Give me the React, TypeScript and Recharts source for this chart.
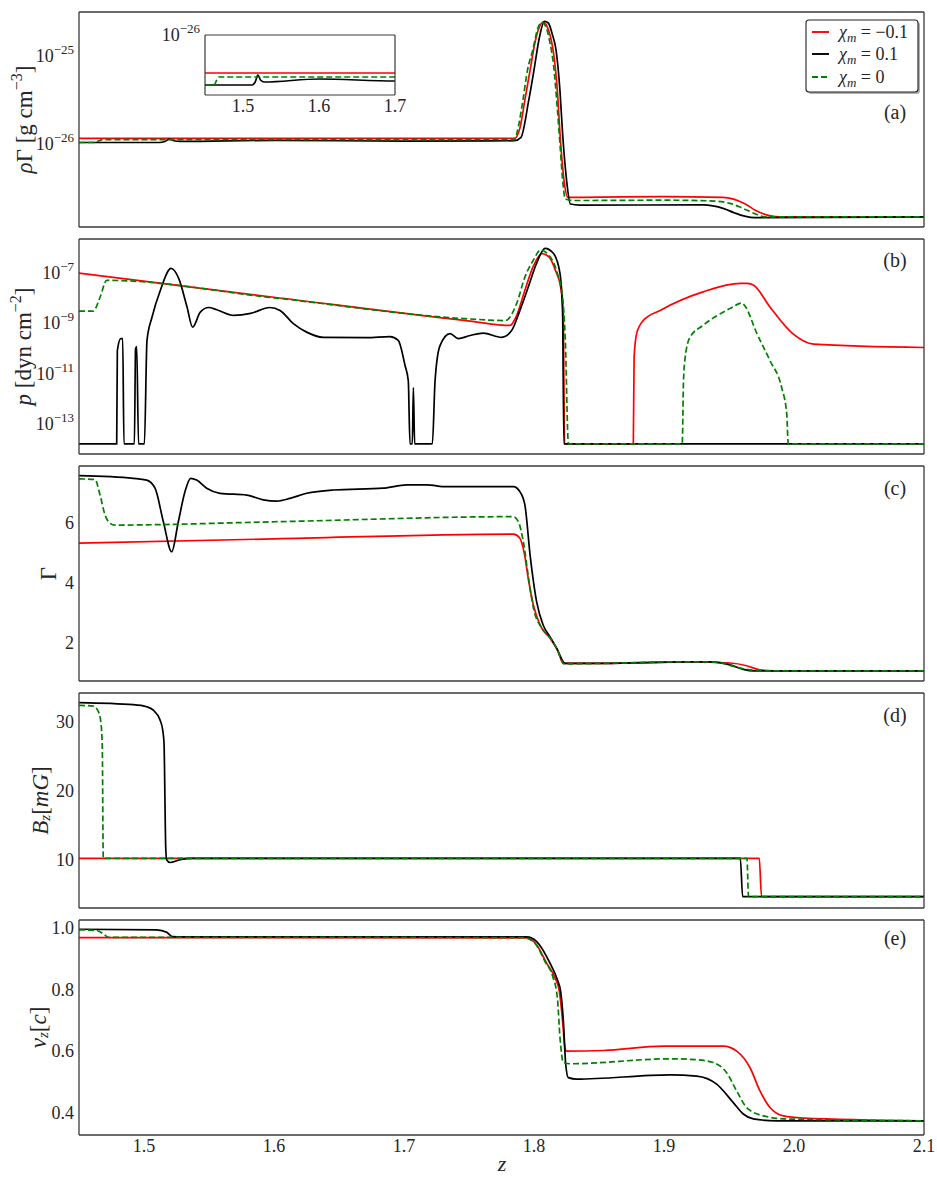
import React from 'react';
import { LineChart, Line, XAxis, YAxis, Legend } from 'recharts';

type Pt = [number, number];

// ---------- x axis ----------
const Z_DOMAIN: [number, number] = [1.45, 2.1];
const Z_MAJOR = [1.5, 1.6, 1.7, 1.8, 1.9, 2.0, 2.1];
const INSET_DOMAIN: [number, number] = [1.45, 1.7];
const INSET_MAJOR = [1.5, 1.6, 1.7];

// ---------- series names ----------
const SERIES_NAMES = ['\u03c7m = \u22120.1', '\u03c7m = 0.1', '\u03c7m = 0'];

// ---------- panel (a): rho*Gamma [g cm^-3] ----------
const rhoRed: Pt[] = [
  [1.45, 1.17e-26], [1.785, 1.17e-26], [1.789, 1.5e-26], [1.793, 3.2e-26], [1.797, 7e-26],
  [1.801, 1.5e-25], [1.805, 2.3e-25], [1.807, 2.45e-25], [1.81, 2.2e-25], [1.813, 1.6e-25],
  [1.815, 1.1e-25], [1.818, 4e-26], [1.82, 1.33e-26], [1.823, 4e-27], [1.826, 2.5e-27],
  [1.835, 2.5e-27], [1.9, 2.55e-27], [1.945, 2.5e-27], [1.9626, 2.1e-27], [1.9703, 1.78e-27],
  [1.981, 1.55e-27], [1.99, 1.5e-27], [2.1, 1.5e-27],
];
const rhoBlack: Pt[] = [
  [1.45, 1.05e-26], [1.512, 1.05e-26], [1.516, 1.08e-26], [1.5197, 1.15e-26], [1.523, 1.1e-26],
  [1.528, 1.08e-26], [1.6, 1.11e-26], [1.7, 1.09e-26], [1.785, 1.1e-26], [1.79, 1.2e-26],
  [1.796, 3.2e-26], [1.8, 7e-26], [1.804, 1.6e-25], [1.808, 2.5e-25], [1.811, 2.4e-25],
  [1.814, 1.8e-25], [1.817, 1.17e-25], [1.82, 4e-26], [1.822, 1.33e-26], [1.825, 4e-27],
  [1.828, 2.1e-27], [1.835, 2.04e-27], [1.93, 2.05e-27], [1.946, 1.86e-27], [1.954, 1.67e-27],
  [1.962, 1.53e-27], [1.97, 1.47e-27], [2.1, 1.5e-27],
];
const rhoGreen: Pt[] = [
  [1.45, 1.05e-26], [1.462, 1.05e-26], [1.4654, 1.1e-26], [1.468, 1.13e-26], [1.785, 1.13e-26],
  [1.788, 1.6e-26], [1.7915, 3.2e-26], [1.795, 7e-26], [1.799, 1.17e-25], [1.803, 2.1e-25],
  [1.806, 2.45e-25], [1.809, 2.2e-25], [1.812, 1.5e-25], [1.815, 8e-26], [1.818, 2.5e-26],
  [1.82, 1.0e-26], [1.822, 4e-27], [1.824, 2.4e-27], [1.83, 2.3e-27], [1.9, 2.32e-27],
  [1.935, 2.28e-27], [1.95, 2.15e-27], [1.958, 1.95e-27], [1.97, 1.63e-27], [1.978, 1.5e-27],
  [2.1, 1.5e-27],
];

// ---------- panel (b): p [dyn cm^-2] ----------
const pRed: Pt[] = [
  [1.45, 1e-7], [1.6, 1.1e-8], [1.7508, 1.24e-9], [1.7815, 8.3e-10], [1.7867, 2.1e-9],
  [1.793, 2.1e-8], [1.7995, 1.9e-7], [1.806, 6.0e-7], [1.8115, 4.5e-7], [1.8165, 1.3e-7],
  [1.8205, 2.8e-8], [1.8225, 2.5e-9], [1.8235, 1.6e-14], [1.8764, 1.6e-14], [1.877, 4.5e-11],
  [1.879, 4e-10], [1.884, 1.3e-9], [1.897, 3.3e-9], [1.93, 1.8e-8], [1.9587, 3.9e-8],
  [1.964, 3.9e-8], [1.969, 3.3e-8], [1.9815, 4.5e-9], [1.999, 3.9e-10], [2.015, 1.5e-10],
  [2.1, 1.1e-10],
];
const pBlack: Pt[] = [
  [1.45, 1.6e-14], [1.479, 1.6e-14], [1.4795, 8.3e-11], [1.4821, 2.5e-10], [1.4836, 2.5e-10],
  [1.4846, 1.6e-14], [1.4926, 1.6e-14], [1.4935, 9.8e-11], [1.4944, 1.2e-10], [1.4958, 1.6e-14],
  [1.5003, 1.6e-14], [1.5023, 2.1e-10], [1.5062, 1.8e-9], [1.5126, 2.1e-8], [1.5208, 1.55e-7],
  [1.5267, 6.2e-8], [1.5331, 4.5e-9], [1.5374, 7.1e-10], [1.5433, 2.8e-9], [1.5497, 4.3e-9],
  [1.556, 3.5e-9], [1.569, 2.1e-9], [1.582, 2.5e-9], [1.5969, 4.3e-9], [1.6046, 3.3e-9],
  [1.6149, 9.8e-10], [1.6251, 4.5e-10], [1.6379, 2.8e-10], [1.6713, 2.7e-10], [1.6892, 3e-10],
  [1.6956, 2.1e-10], [1.7008, 2.1e-11], [1.7033, 5.2e-12], [1.7046, 1.6e-14], [1.7064, 1.6e-14],
  [1.7072, 2.8e-12], [1.7082, 1.6e-14], [1.7218, 1.6e-14], [1.7239, 5.2e-12], [1.7277, 1.3e-10],
  [1.7354, 3.9e-10], [1.7418, 2.5e-10], [1.7508, 3.3e-10], [1.761, 4.1e-10], [1.7751, 2.8e-10],
  [1.7828, 5.2e-10], [1.7892, 3.3e-9], [1.7956, 2.8e-8], [1.802, 2.5e-7], [1.8085, 9.8e-7],
  [1.8149, 6.2e-7], [1.82, 9.8e-8], [1.822, 2.5e-9], [1.823, 1.6e-14], [2.1, 1.6e-14],
];
const pGreen: Pt[] = [
  [1.45, 3.1e-9], [1.461, 3.1e-9], [1.4662, 1.1e-8], [1.4713, 5.2e-8], [1.6, 1.04e-8],
  [1.7508, 1.5e-9], [1.778, 1.3e-9], [1.7867, 6.3e-9], [1.793, 7e-8], [1.7995, 3.3e-7],
  [1.805, 8.3e-7], [1.8115, 5.2e-7], [1.818, 9.8e-8], [1.822, 1.1e-8], [1.824, 2.8e-10],
  [1.8265, 1.6e-14], [1.914, 1.6e-14], [1.915, 5.2e-12], [1.9163, 4.5e-11], [1.92, 2.8e-10],
  [1.93, 8.3e-10], [1.9507, 3.9e-9], [1.96, 6.5e-9], [1.962, 5.2e-9], [1.9715, 3.9e-10],
  [1.9815, 3.3e-11], [1.9905, 2.8e-12], [1.9944, 2.5e-13], [1.9956, 1.6e-14], [2.1, 1.6e-14],
];

// ---------- panel (c): Gamma ----------
const gRed: Pt[] = [
  [1.45, 5.33], [1.6, 5.47], [1.7841, 5.63], [1.789, 5.5], [1.7925, 5.0], [1.796, 4.04],
  [1.7995, 3.27], [1.8046, 2.6], [1.8123, 2.16], [1.818, 1.77], [1.8226, 1.32], [1.8533, 1.32],
  [1.9174, 1.37], [1.9508, 1.33], [1.9636, 1.24], [1.9738, 1.1], [1.985, 1.07], [2.1, 1.07],
];
const gBlack: Pt[] = [
  [1.45, 7.58], [1.4918, 7.49], [1.5021, 7.43], [1.5085, 7.16], [1.5149, 6.04], [1.5213, 5.04],
  [1.5264, 6.04], [1.5315, 7.04], [1.5359, 7.49], [1.5405, 7.43], [1.5482, 7.16], [1.5585, 6.99],
  [1.579, 6.93], [1.5918, 6.77], [1.6021, 6.73], [1.6123, 6.82], [1.6251, 6.99], [1.6456, 7.1],
  [1.6841, 7.16], [1.7021, 7.27], [1.7174, 7.27], [1.7328, 7.21], [1.7841, 7.21], [1.7892, 7.04],
  [1.793, 6.6], [1.797, 4.93], [1.802, 3.38], [1.807, 2.6], [1.8123, 2.21], [1.8175, 1.82],
  [1.824, 1.32], [1.8533, 1.32], [1.9174, 1.37], [1.9354, 1.37], [1.9508, 1.27], [1.961, 1.12],
  [1.9687, 1.07], [2.1, 1.07],
];
const gGreen: Pt[] = [
  [1.45, 7.47], [1.4623, 7.45], [1.4662, 6.93], [1.47, 6.27], [1.4738, 5.99], [1.4777, 5.93],
  [1.6, 6.04], [1.7841, 6.21], [1.788, 6.04], [1.7918, 5.38], [1.796, 4.1], [1.7995, 3.18],
  [1.806, 2.49], [1.8136, 2.1], [1.818, 1.77], [1.8231, 1.3], [1.8533, 1.32], [1.9174, 1.37],
  [1.94, 1.36], [1.9559, 1.19], [1.9662, 1.1], [1.98, 1.07], [2.1, 1.07],
];

// ---------- panel (d): Bz [mG] ----------
const bRed: Pt[] = [[1.45, 10.2], [1.9733, 10.2], [1.975, 4.65], [2.1, 4.65]];
const bBlack: Pt[] = [
  [1.45, 32.8], [1.4918, 32.5], [1.5021, 32.2], [1.5072, 31.7], [1.5123, 30.3], [1.5144, 28.8],
  [1.5154, 26.9], [1.5167, 11.9], [1.5174, 10.0], [1.52, 9.6], [1.5277, 10.0], [1.5379, 10.2],
  [1.9587, 10.2], [1.9605, 4.65], [2.1, 4.65],
];
const bGreen: Pt[] = [
  [1.45, 32.4], [1.461, 32.3], [1.4649, 31.5], [1.4669, 29.8], [1.4679, 26.4], [1.4687, 10.2],
  [1.9638, 10.2], [1.965, 4.65], [2.1, 4.65],
];

// ---------- panel (e): vz [c] ----------
const vRed: Pt[] = [
  [1.45, 0.969], [1.7944, 0.968], [1.8021, 0.945], [1.8097, 0.886], [1.8162, 0.838], [1.8195, 0.795],
  [1.822, 0.698], [1.8238, 0.612], [1.8251, 0.601], [1.8533, 0.603], [1.8995, 0.617], [1.9456, 0.617],
  [1.9559, 0.601], [1.9662, 0.547], [1.9738, 0.472], [1.9815, 0.418], [1.9918, 0.391], [2.0072, 0.384],
  [2.1, 0.375],
];
const vBlack: Pt[] = [
  [1.45, 0.996], [1.5098, 0.994], [1.5175, 0.986], [1.5218, 0.972], [1.53, 0.971], [1.7944, 0.971],
  [1.8021, 0.956], [1.8123, 0.886], [1.818, 0.832], [1.8205, 0.795], [1.8226, 0.698], [1.8244, 0.558],
  [1.8264, 0.515], [1.8328, 0.51], [1.9046, 0.524], [1.9251, 0.52], [1.9405, 0.494], [1.9533, 0.434],
  [1.961, 0.397], [1.9687, 0.381], [1.9867, 0.375], [2.1, 0.375],
];
const vGreen: Pt[] = [
  [1.45, 0.994], [1.4636, 0.992], [1.4687, 0.981], [1.4726, 0.97], [1.7918, 0.969], [1.8008, 0.95],
  [1.8085, 0.891], [1.8144, 0.843], [1.818, 0.773], [1.82, 0.644], [1.8226, 0.564], [1.8277, 0.56],
  [1.9046, 0.576], [1.9251, 0.573], [1.9379, 0.564], [1.9482, 0.531], [1.9559, 0.472], [1.9636, 0.418],
  [1.9764, 0.391], [1.9944, 0.381], [2.1, 0.375],
];

// ---------- y tick values ----------
const A_MAJOR = [1e-26, 1e-25];
const B_MAJOR = [1e-13, 1e-11, 1e-9, 1e-7];
const C_MAJOR = [2, 4, 6];
const D_MAJOR = [10, 20, 30];
const E_MAJOR = [0.4, 0.6, 0.8, 1.0];

// ---------- styling ----------
const FONT = 'Liberation Serif, DejaVu Serif, serif';
const TXT = '#262626';
const FRAME = '#3a3a3a';
const RED = '#ff0000';
const BLACK = '#000000';
const GREEN = '#008000';
const LW = 1.7;
const TICK_FS = 18;
const SUP_FS = 13;
const FS = { fontFamily: FONT };

const rows = (pts: Pt[]) => pts.map(([z, v]) => ({ z, v }));

function steps(a: number, b: number, step: number): number[] {
  const out: number[] = [];
  const n = Math.round((b - a) / step);
  for (let i = 0; i <= n; i++) out.push(+(a + i * step).toFixed(6));
  return out;
}
function logMinor(e0: number, e1: number, lo: number, hi: number): number[] {
  const out: number[] = [];
  for (let e = e0; e <= e1; e++) {
    for (let m = 2; m <= 9; m++) {
      const v = m * Math.pow(10, e);
      if (v >= lo && v <= hi) out.push(v);
    }
  }
  return out;
}

const Z_MINOR = steps(1.45, 2.1, 0.01);
const INSET_MINOR = steps(1.45, 1.7, 0.1 / 6);

const supMinus = (n: number) => '\u2212' + Math.abs(n);

const makeYTick = (kind: 'log' | 'int' | 'dec') => (props: any) => {
  const { x, y, payload } = props;
  const v = payload.value as number;
  if (kind === 'log') {
    const e = Math.round(Math.log10(v));
    return (
      <text x={x} y={y} textAnchor="end" fontFamily={FONT} style={FS} fontSize={TICK_FS} fill={TXT}>
        <tspan dy={6}>10</tspan>
        <tspan dy={-8} fontSize={SUP_FS}>{supMinus(e)}</tspan>
      </text>
    );
  }
  const s = kind === 'dec' ? v.toFixed(1) : String(Math.round(v));
  return (
    <text x={x} y={y} dy={6} textAnchor="end" fontFamily={FONT} style={FS} fontSize={TICK_FS} fill={TXT}>{s}</text>
  );
};

const XTick = (props: any) => {
  const { x, y, payload } = props;
  return (
    <text x={x} y={y} dy={13} textAnchor="middle" fontFamily={FONT} style={FS} fontSize={TICK_FS} fill={TXT}>
      {(payload.value as number).toFixed(1)}
    </text>
  );
};

interface PanelCfg {
  key: string;
  top: number;
  scale: 'log' | 'linear';
  domain: [number, number];
  major: number[];
  minor: number[];
  tick: (p: any) => React.ReactElement;
  label: React.ReactNode;
  labelX: number;
  red: Pt[];
  black: Pt[];
  green: Pt[];
  bottom?: boolean;
  legend?: boolean;
}

const it = (s: string) => <tspan fontStyle="italic">{s}</tspan>;

const PANELS: PanelCfg[] = [
  {
    key: 'a', top: 12, scale: 'log', domain: [1.15e-27, 3.2e-25], major: A_MAJOR,
    minor: logMinor(-27, -25, 1.15e-27, 3.2e-25), tick: makeYTick('log'), labelX: 24,
    label: (<>{it('\u03c1')}{'\u0393 [g cm'}<tspan dy={-8} fontSize={16}>{'\u22123'}</tspan><tspan dy={8}>]</tspan></>),
    red: rhoRed, black: rhoBlack, green: rhoGreen, legend: true,
  },
  {
    key: 'b', top: 239, scale: 'log', domain: [6.3e-15, 2.3e-6], major: B_MAJOR, minor: [],
    tick: makeYTick('log'), labelX: 23,
    label: (<>{it('p')}{' [dyn cm'}<tspan dy={-8} fontSize={16}>{'\u22122'}</tspan><tspan dy={8}>]</tspan></>),
    red: pRed, black: pBlack, green: pGreen,
  },
  {
    key: 'c', top: 466, scale: 'linear', domain: [0.73, 7.9], major: C_MAJOR, minor: steps(1, 7.5, 0.5),
    tick: makeYTick('int'), labelX: 48, label: <>{'\u0393'}</>,
    red: gRed, black: gBlack, green: gGreen,
  },
  {
    key: 'd', top: 693, scale: 'linear', domain: [3.0, 34.2], major: D_MAJOR, minor: steps(4, 34, 2),
    tick: makeYTick('int'), labelX: 40,
    label: (<>{it('B')}<tspan dy={5} fontSize={15} fontStyle="italic">z</tspan><tspan dy={-5}>[</tspan>{it('mG')}]</>),
    red: bRed, black: bBlack, green: bGreen,
  },
  {
    key: 'e', top: 920, scale: 'linear', domain: [0.329, 1.026], major: E_MAJOR, minor: steps(0.35, 1.0, 0.05),
    tick: makeYTick('dec'), labelX: 38,
    label: (<>{it('v')}<tspan dy={5} fontSize={15} fontStyle="italic">z</tspan><tspan dy={-5}>[</tspan>{it('c')}]</>),
    red: vRed, black: vBlack, green: vGreen, bottom: true,
  },
];

const LETTERS = [
  { t: '(a)', y: 119 }, { t: '(b)', y: 267 }, { t: '(c)', y: 495 }, { t: '(d)', y: 722 }, { t: '(e)', y: 945 },
];

const LegendBox = () => {
  const colors = [RED, BLACK, GREEN];
  const rowsY = [18, 40, 63];
  const vals = ['\u22120.1', '0.1', '0'];
  return (
    <svg width={125} height={85} style={{ display: 'block' }}>
      <rect x={8} y={8} width={112} height={72} rx={3} fill="#7a7a7a" opacity={0.6} />
      <rect x={6} y={6} width={112} height={72} rx={3} fill="#ffffff" stroke="#222" strokeWidth={1.1} />
      {colors.map((c, i) => (
        <g key={i}>
          <line x1={12} x2={29} y1={rowsY[i]} y2={rowsY[i]} stroke={c} strokeWidth={LW + 0.2}
            strokeDasharray={i === 2 ? '6 3' : undefined} />
          <text x={39} y={rowsY[i] + 6} fontFamily={FONT} style={FS} fontSize={18} fill={TXT}>
            <tspan fontStyle="italic">{'\u03c7'}</tspan>
            <tspan dy={4} fontSize={13} fontStyle="italic">m</tspan>
            <tspan dy={-4}>{' = ' + vals[i]}</tspan>
          </text>
        </g>
      ))}
    </svg>
  );
};

function renderLines(red: Pt[], black: Pt[], green: Pt[], xId: string, yId: string) {
  return [
    <Line key="r" name={SERIES_NAMES[0]} data={rows(red)} dataKey="v" xAxisId={xId} yAxisId={yId} type="monotone"
      stroke={RED} strokeWidth={LW} dot={false} activeDot={false} isAnimationActive={false} />,
    <Line key="k" name={SERIES_NAMES[1]} data={rows(black)} dataKey="v" xAxisId={xId} yAxisId={yId} type="monotone"
      stroke={BLACK} strokeWidth={LW} dot={false} activeDot={false} isAnimationActive={false} />,
    <Line key="g" name={SERIES_NAMES[2]} data={rows(green)} dataKey="v" xAxisId={xId} yAxisId={yId} type="monotone"
      stroke={GREEN} strokeWidth={LW} strokeDasharray="6 3" dot={false} activeDot={false} isAnimationActive={false} />,
  ];
}

function renderPanel(p: PanelCfg) {
  const chartTop = p.top - 5;
  const h = p.bottom ? 262 : 225;
  const frame = { stroke: FRAME, strokeWidth: 1.3 };
  const tl = { stroke: FRAME, strokeWidth: 1 };
  const yLabel = {
    content: (props: any) => {
      const vb = props.viewBox || { y: 5, height: 215 };
      const cy = vb.y + vb.height / 2;
      return (
        <text transform={`translate(${p.labelX},${cy}) rotate(-90)`} textAnchor="middle" dominantBaseline="central"
          fontFamily={FONT} style={FS} fontSize={23} fill={TXT}>{p.label}</text>
      );
    },
  };
  const zLabel = {
    content: () => (
      <text x={502} y={256} textAnchor="middle" fontFamily={FONT} style={FS} fontSize={22} fontStyle="italic" fill={TXT}>z</text>
    ),
  };
  return (
    <div key={p.key} style={{ position: 'absolute', left: 0, top: chartTop }}>
      <LineChart width={937} height={h} margin={{ top: 5, right: 13, left: 0, bottom: p.bottom ? 2 : 5 }}>
        <XAxis xAxisId="x" type="number" dataKey="z" domain={Z_DOMAIN} allowDataOverflow ticks={Z_MAJOR}
          hide={!p.bottom} height={40} tickLine={false} axisLine={false} tickSize={0} tickMargin={4}
          tick={XTick} interval={0} label={p.bottom ? zLabel : undefined} />
        <XAxis xAxisId="xM" type="number" dataKey="z" domain={Z_DOMAIN} allowDataOverflow ticks={Z_MAJOR}
          mirror tick={false} tickSize={9} tickLine={tl} axisLine={frame} interval={0} />
        <XAxis xAxisId="xm" type="number" dataKey="z" domain={Z_DOMAIN} allowDataOverflow ticks={Z_MINOR}
          mirror tick={false} tickSize={5} tickLine={tl} axisLine={false} interval={0} />
        <XAxis xAxisId="xT" type="number" dataKey="z" domain={Z_DOMAIN} allowDataOverflow orientation="top"
          mirror tick={false} tickLine={false} axisLine={frame} />
        <YAxis yAxisId="y" type="number" scale={p.scale} domain={p.domain} allowDataOverflow ticks={p.major}
          width={79} tickLine={false} axisLine={frame} tickSize={0} tickMargin={5} tick={p.tick} interval={0}
          label={yLabel} />
        <YAxis yAxisId="yM" type="number" scale={p.scale} domain={p.domain} allowDataOverflow ticks={p.major}
          mirror tick={false} tickSize={9} tickLine={tl} axisLine={false} interval={0} />
        <YAxis yAxisId="ym" type="number" scale={p.scale} domain={p.domain} allowDataOverflow ticks={p.minor}
          mirror tick={false} tickSize={5} tickLine={tl} axisLine={false} interval={0} />
        <YAxis yAxisId="yRM" type="number" orientation="right" scale={p.scale} domain={p.domain} allowDataOverflow
          ticks={p.major} mirror tick={false} tickSize={9} tickLine={tl} axisLine={frame} interval={0} />
        <YAxis yAxisId="yRm" type="number" orientation="right" scale={p.scale} domain={p.domain} allowDataOverflow
          ticks={p.minor} mirror tick={false} tickSize={5} tickLine={tl} axisLine={false} interval={0} />
        {renderLines(p.red, p.black, p.green, 'x', 'y')}
        {p.legend ? (
          <Legend layout="vertical" align="center" verticalAlign="middle" content={() => <LegendBox />}
            wrapperStyle={{ position: 'absolute', left: 800, top: 7, width: 125, height: 85 }} />
        ) : null}
      </LineChart>
    </div>
  );
}

function renderInset() {
  const frame = { stroke: FRAME, strokeWidth: 1.2 };
  const tl = { stroke: FRAME, strokeWidth: 1 };
  const insetLabel = {
    content: () => (
      <text x={50} y={21} textAnchor="end" fontFamily={FONT} style={FS} fontSize={TICK_FS} fill={TXT}>
        10<tspan dy={-8} fontSize={SUP_FS}>{supMinus(-26)}</tspan>
      </text>
    ),
  };
  return (
    <div style={{ position: 'absolute', left: 150, top: 20 }}>
      <LineChart width={265} height={105} margin={{ top: 15, right: 20, left: 55, bottom: 0 }}>
        <XAxis xAxisId="x" type="number" dataKey="z" domain={INSET_DOMAIN} allowDataOverflow ticks={INSET_MAJOR}
          height={30} tickLine={false} axisLine={false} tickSize={0} tickMargin={4} tick={XTick} interval={0} />
        <XAxis xAxisId="xM" type="number" dataKey="z" domain={INSET_DOMAIN} allowDataOverflow ticks={INSET_MAJOR}
          mirror tick={false} tickSize={8} tickLine={tl} axisLine={frame} interval={0} />
        <XAxis xAxisId="xm" type="number" dataKey="z" domain={INSET_DOMAIN} allowDataOverflow ticks={INSET_MINOR}
          mirror tick={false} tickSize={5} tickLine={tl} axisLine={false} interval={0} />
        <XAxis xAxisId="xT" type="number" dataKey="z" domain={INSET_DOMAIN} allowDataOverflow orientation="top"
          mirror tick={false} tickLine={false} axisLine={frame} />
        <YAxis yAxisId="y" type="number" domain={[0.95e-26, 1.55e-26]} allowDataOverflow hide />
        <YAxis yAxisId="yL" type="number" domain={[0.95e-26, 1.55e-26]} mirror tick={false} tickLine={false}
          axisLine={frame} label={insetLabel} />
        <YAxis yAxisId="yR" type="number" orientation="right" domain={[0.95e-26, 1.55e-26]} mirror tick={false}
          tickLine={false} axisLine={frame} />
        {renderLines(rhoRed, rhoBlack, rhoGreen, 'x', 'y')}
      </LineChart>
    </div>
  );
}

export default function App() {
  return (
    <div style={{ position: 'absolute', left: 0, top: 0, width: 937, height: 1177, background: '#fff', fontFamily: FONT, overflow: 'hidden' }}>
      {PANELS.map((p) => renderPanel(p))}
      {renderInset()}
      <svg width={937} height={1177} style={{ position: 'absolute', left: 0, top: 0, pointerEvents: 'none' }}>
        {LETTERS.map((l) => (
          <text key={l.t} x={895} y={l.y} textAnchor="middle" fontFamily={FONT} style={FS} fontSize={20} fill={TXT}>{l.t}</text>
        ))}
      </svg>
    </div>
  );
}
